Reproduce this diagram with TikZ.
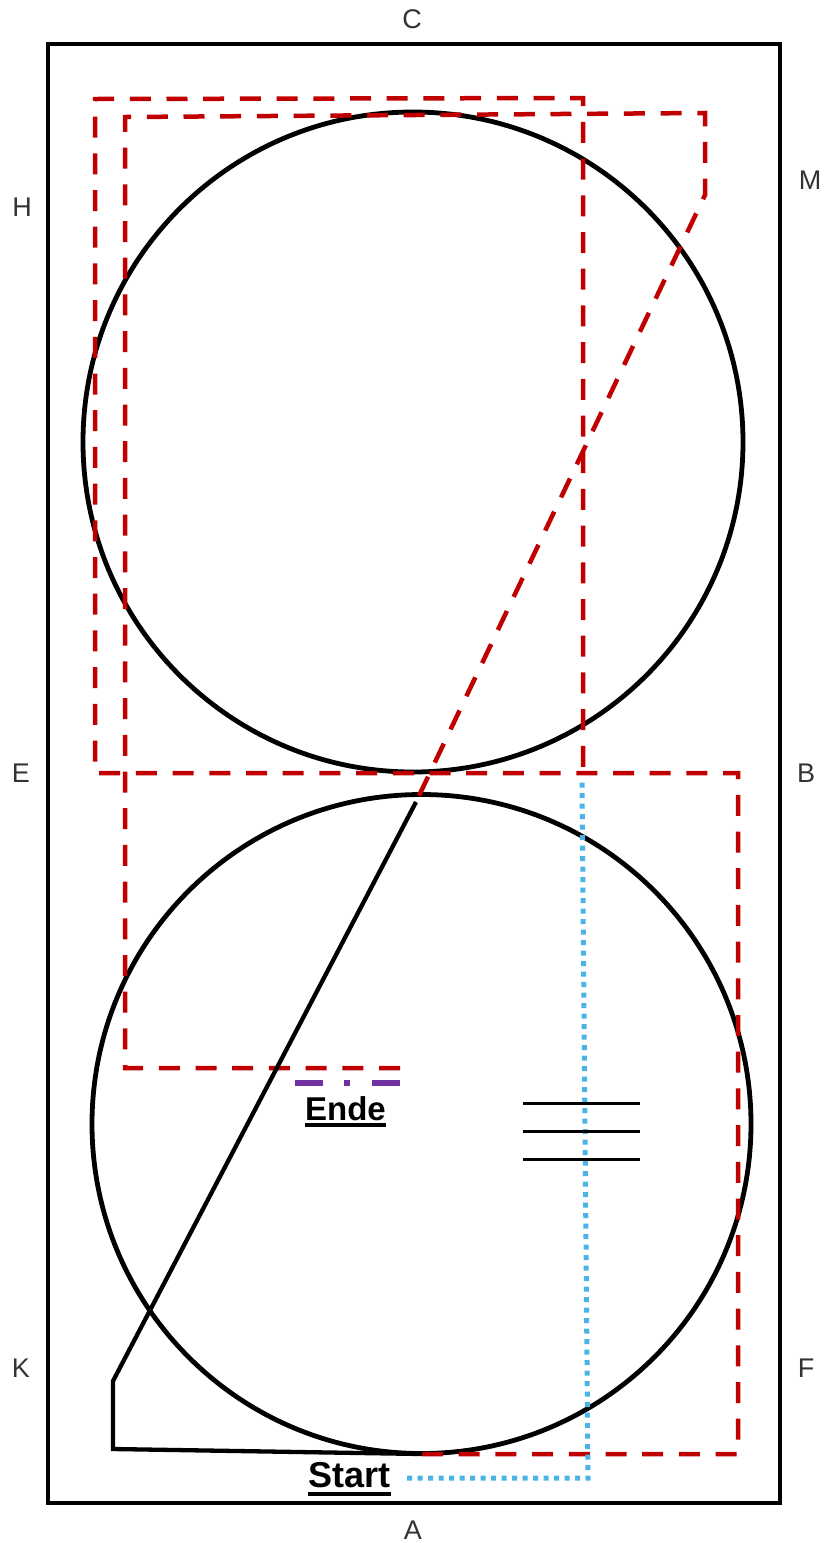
\documentclass[tikz,border=0pt]{standalone}
\usepackage{fontspec}
\setmainfont{Liberation Sans}
\usepackage{xcolor}
\usetikzlibrary{positioning}
\definecolor{wallred}{HTML}{C00000}
\definecolor{endpurple}{HTML}{7030A0}
\definecolor{walkblue}{HTML}{4BB4E6}
\definecolor{letgray}{HTML}{333333}

\begin{document}
\begin{tikzpicture}[x=1pt, y=-1pt,
  every node/.style={inner sep=0pt},
  letter/.style={font=\fontsize{27}{30}\selectfont, text=letgray},
  tag/.style={font=\bfseries\fontsize{33}{36}\selectfont, anchor=base},
  arena/.style={draw, line width=4pt, minimum width=732pt, minimum height=1459pt},
  ring/.style={draw, circle, line width=4.8pt, minimum size=660pt},
  route/.style={draw=wallred, line width=4.5pt, dash pattern=on 21pt off 15.7pt},
  finish/.style={draw=endpurple, line width=5.5pt,
                 dash pattern=on 28pt off 21pt on 6pt off 22pt},
  walk/.style={draw=walkblue, line width=5pt, dash pattern=on 5pt off 5.5pt},
  track/.style={draw, line width=4.3pt, line join=miter},
  rung/.style={draw, line width=3pt},
  uline/.style={draw, line width=3.5pt},
]
\useasboundingbox (0,0) rectangle (825,1543);

\node[arena] (field) at (414,773.5) {};
\node[ring]  (upper) at (413,442)   {};
\node[ring, minimum size=659pt] (lower) at (421.5,1124) {};

\node[letter] (C) at (412,19)   {C};
\node[letter] (H) at (22,207)   {H};
\node[letter] (M) at (810,180)  {M};
\node[letter] (E) at (21,773)   {E};
\node[letter] (B) at (806,773)  {B};
\node[letter] (K) at (21,1368)  {K};
\node[letter] (F) at (806,1368) {F};
\node[letter] (A) at (413,1530) {A};

\coordinate (o1) at (583,98);
\coordinate (o2) at (95,99);
\coordinate (o3) at (95,773);
\coordinate (o4) at (738,773);
\coordinate (o5) at (738,1454);
\coordinate (o6) at (422,1454);
\coordinate (o7) at (583,773);

\coordinate (i1) at (400,1068);
\coordinate (i2) at (125,1068);
\coordinate (i3) at (125,117);
\coordinate (i4) at (705,113);
\coordinate (i5) at (705,195);
\coordinate (i6) at (416,802);

\coordinate (t1) at (113,1381);
\coordinate (t2) at (113,1449);
\coordinate (t3) at (422,1454);

\coordinate (p1) at (295,1083);
\coordinate (p2) at (400,1083);

\coordinate (w1) at (407,1478);
\coordinate (w2) at (588,1478);
\coordinate (w3) at (582,780);

\draw[route] (o6) -- (o5) -- (o4) -- (o3) -- (o2) -- (o1) -- (o7);
\draw[route] (i1) -- (i2) -- (i3) -- (i4) -- (i5) -- (i6);
\draw[track] (i6) -- (t1) -- (t2) -- (t3);
\draw[finish] (p1) -- (p2);
\draw[walk] (w1) -- (w2) -- (w3);

\draw[rung] (523,1103) -- (640,1103);
\draw[rung] (523,1131) -- (640,1131);
\draw[rung] (523,1159) -- (640,1159);

\node[tag] (ende)  at (345.5,1120) {Ende};
\node[tag, font=\bfseries\fontsize{36}{40}\selectfont] (start) at (349.5,1487) {Start};
\draw[uline] ([yshift=-5pt]ende.base west) -- ([yshift=-5pt]ende.base east);
\draw[uline] ([yshift=-7pt]start.base west) -- ([yshift=-7pt]start.base east);
\end{tikzpicture}
\end{document}
